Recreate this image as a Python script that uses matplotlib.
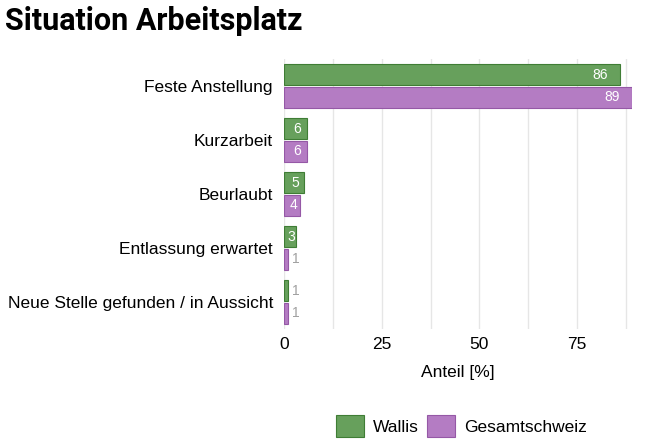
import matplotlib.pyplot as plt
import numpy as np

plt.rcParams['font.family'] = ['Liberation Sans', 'DejaVu Sans']

categories = ['Feste Anstellung', 'Kurzarbeit', 'Beurlaubt',
              'Entlassung erwartet', 'Neue Stelle gefunden / in Aussicht']
wallis = [86, 6, 5, 3, 1]
schweiz = [89, 6, 4, 1, 1]

green = '#67a05c'
green_edge = '#3f7d35'
purple = '#b47cc3'
purple_edge = '#9558a6'

fig = plt.figure(figsize=(6.5, 4.44), dpi=100)
ax = fig.add_axes([0.437, 0.259, 0.535, 0.608])

y = np.arange(len(categories))
h = 0.39
off = 0.21
b1 = ax.barh(y - off, wallis, height=h, color=green, edgecolor=green_edge, linewidth=0.8, label='Wallis')
b2 = ax.barh(y + off, schweiz, height=h, color=purple, edgecolor=purple_edge, linewidth=0.8, label='Gesamtschweiz')

for bars, vals in ((b1, wallis), (b2, schweiz)):
    for bar, v in zip(bars, vals):
        cy = bar.get_y() + bar.get_height() / 2
        if v >= 10:
            ax.text(v - 3, cy, str(v), ha='right', va='center', color='white', fontsize=10)
        elif v >= 3:
            ax.text(v / 2 + 0.3, cy, str(v), ha='center', va='center', color='white', fontsize=10)
        else:
            ax.text(v + 1.0, cy, str(v), ha='left', va='center', color='#a0a0a0', fontsize=10)

ax.set_ylim(len(categories) - 0.5, -0.5)
ax.set_xlim(0, 89)
ax.set_yticks(y)
ax.set_yticklabels(categories, fontsize=12.5)
ax.set_xticks([0, 25, 50, 75])
ax.set_xticks([12.5, 37.5, 62.5, 87.5], minor=True)
ax.tick_params(axis='x', labelsize=12.5, length=0, which='both', pad=6)
ax.tick_params(axis='y', length=0, pad=8)
ax.grid(axis='x', which='both', color='#e6e6e6', linewidth=1)
ax.set_axisbelow(True)
for s in ax.spines.values():
    s.set_visible(False)
ax.set_xlabel('Anteil [%]', fontsize=12.5, labelpad=9)

fig.text(0.008, 0.953, 'Situation Arbeitsplatz', fontsize=22, fontweight='bold',
         family=['Roboto', 'DejaVu Sans'], va='center')

fig.legend(handles=[b1, b2], loc='center', bbox_to_anchor=(0.71, 0.04), ncol=2,
           frameon=False, fontsize=12.5, handlelength=1.6, handleheight=1.6,
           columnspacing=0.5, handletextpad=0.5)

fig.savefig('out.png', dpi=100)
